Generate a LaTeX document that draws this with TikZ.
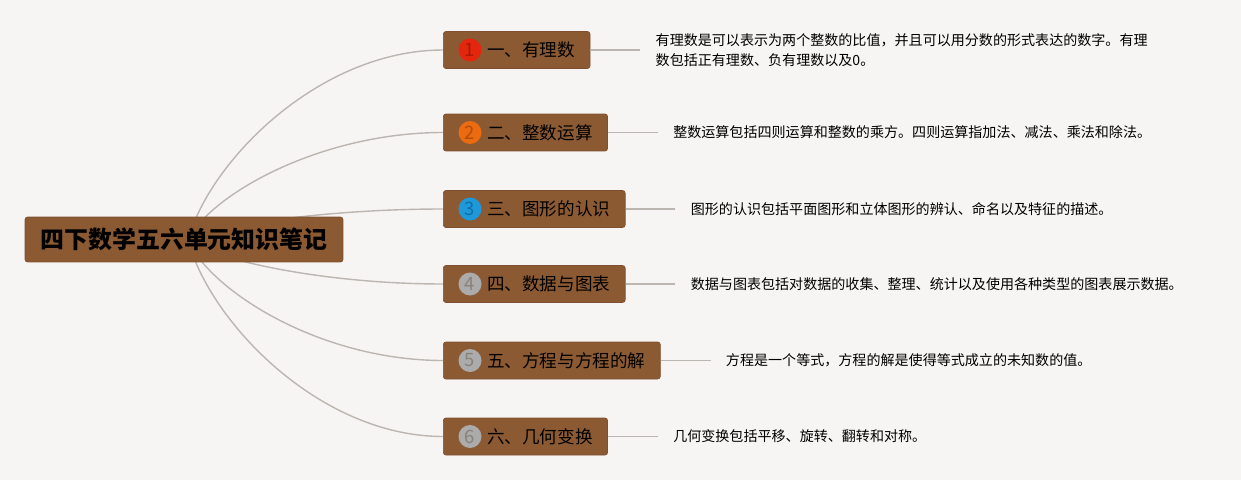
\documentclass[tikz,border=0pt]{standalone}
\usepackage{fontspec}
\setmainfont{Noto Sans CJK SC}
\usetikzlibrary{positioning, calc, backgrounds}
\definecolor{bgcol}{HTML}{F7F5F4}
\definecolor{boxbrown}{HTML}{8B5A33}
\definecolor{boxedge}{HTML}{7E5030}
\definecolor{stemgray}{HTML}{BCB6B1}
\definecolor{badgered}{HTML}{E3260D}
\definecolor{numred}{HTML}{A81A06}
\definecolor{badgeorange}{HTML}{EA6B10}
\definecolor{numorange}{HTML}{B24E06}
\definecolor{badgeblue}{HTML}{1E98D8}
\definecolor{numblue}{HTML}{11709F}
\definecolor{badgegray}{HTML}{ABABAB}
\definecolor{numgray}{HTML}{8A8178}

\begin{document}
\begin{tikzpicture}[x=0.02cm, y=-0.02cm,
      root/.style={draw=boxedge, fill=boxbrown, rounded corners=1.5pt, minimum width=6.36cm,
                   minimum height=0.9cm, font=\fontsize{13.6}{16}\selectfont\bfseries, text=black},
      branch/.style={draw=boxedge, fill=boxbrown, rounded corners=1.5pt, anchor=west,
                     minimum height=0.74cm, inner xsep=0.3cm, inner ysep=0pt,
                     font=\fontsize{10}{12}\selectfont, text=black},
      badge/.style={circle, inner sep=0pt, minimum size=0.46cm, font=\fontsize{10.5}{11}\selectfont},
      desc/.style={inner xsep=0.3cm, inner ysep=1pt, align=left,
                   font=\fontsize{8}{11.3}\selectfont, text=black},
      stem/.style={draw=stemgray, line width=0.8pt},
      leaf/.style={draw=stemgray, line width=0.9pt}
    ]
    \node[root] (root) at (184,239.5) {四下数学五六单元知识笔记};
    \coordinate (hub) at (188,240);

    \node[branch] (b1) at (443,50)    {\hspace*{16.4pt}一、有理数};
    \node[branch] (b2) at (443,132.5) {\hspace*{16.4pt}二、整数运算};
    \node[branch] (b3) at (443,209)   {\hspace*{16.4pt}三、图形的认识};
    \node[branch] (b4) at (443,284)   {\hspace*{16.4pt}四、数据与图表};
    \node[branch] (b5) at (443,360.5) {\hspace*{16.4pt}五、方程与方程的解};
    \node[branch] (b6) at (443,436.5) {\hspace*{16.4pt}六、几何变换};

    \node[badge, fill=badgered, text=numred]       (n1) at ($(b1.west)+(27,0)$) {1};
    \node[badge, fill=badgeorange, text=numorange] (n2) at ($(b2.west)+(27,0)$) {2};
    \node[badge, fill=badgeblue, text=numblue]     (n3) at ($(b3.west)+(27,0)$) {3};
    \node[badge, fill=badgegray, text=numgray]     (n4) at ($(b4.west)+(27,0)$) {4};
    \node[badge, fill=badgegray, text=numgray]     (n5) at ($(b5.west)+(27,0)$) {5};
    \node[badge, fill=badgegray, text=numgray]     (n6) at ($(b6.west)+(27,0)$) {6};

    \node[desc, right=1cm of b1] (d1) {有理数是可以表示为两个整数的比值，并且可以用分数的形式表达的数字。有理\\数包括正有理数、负有理数以及0。};
    \node[desc, right=1cm of b2] (d2) {整数运算包括四则运算和整数的乘方。四则运算指加法、减法、乘法和除法。};
    \node[desc, right=1cm of b3] (d3) {图形的认识包括平面图形和立体图形的辨认、命名以及特征的描述。};
    \node[desc, right=1cm of b4] (d4) {数据与图表包括对数据的收集、整理、统计以及使用各种类型的图表展示数据。};
    \node[desc, right=1cm of b5] (d5) {方程是一个等式，方程的解是使得等式成立的未知数的值。};
    \node[desc, right=1cm of b6] (d6) {几何变换包括平移、旋转、翻转和对称。};

    \draw[leaf] (b1) -- (b1 -| d1.west);
    \draw[leaf] (b2) -- (d2);
    \draw[leaf] (b3) -- (d3);
    \draw[leaf] (b4) -- (d4);
    \draw[leaf] (b5) -- (d5);
    \draw[leaf] (b6) -- (d6);

    \begin{scope}[on background layer]
      \fill[bgcol] (0,0) rectangle (1241,480);
      % curved stems from the title to each unit
      \foreach \b in {b1,b2,b3,b4,b5,b6}
        \draw[stem] (hub) .. controls ($(hub)!0.42!(hub |- \b.west)+(22,0)$)
                    and ($(hub |- \b.west)+(132,0)$) .. (\b.west);
    \end{scope}
  \end{tikzpicture}
\end{document}
